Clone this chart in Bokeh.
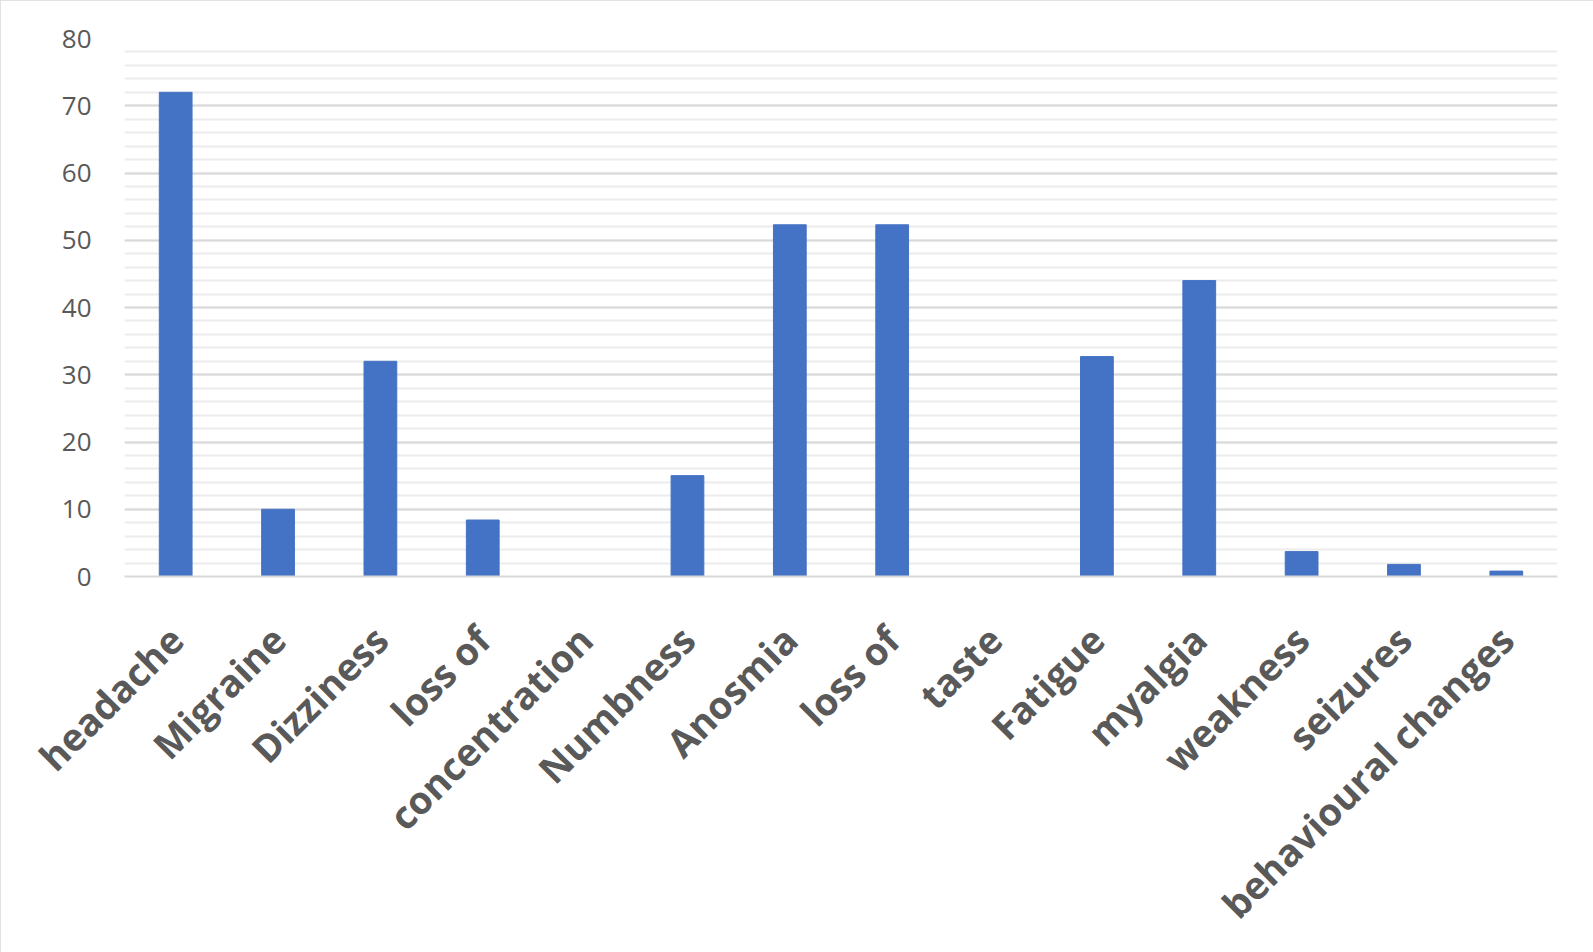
import math
from bokeh.plotting import figure
from bokeh.models import Range1d, FixedTicker, ColumnDataSource
from bokeh.embed import file_html
from bokeh.resources import INLINE

categories = ["headache", "Migraine", "Dizziness", "loss of", "concentration", "Numbness",
              "Anosmia", "loss of", "taste", "Fatigue", "myalgia", "weakness", "seizures",
              "behavioural changes"]
values = [72, 10, 32, 8.4, 0, 15, 52.3, 52.3, 0, 32.7, 44, 3.7, 1.8, 0.8]
y_ticks = [0, 10, 20, 30, 40, 50, 60, 70, 80]

positions = list(range(len(categories)))
src = ColumnDataSource(dict(x=positions, top=values))

p = figure(width=1593, height=952, output_backend="svg", toolbar_location=None,
           x_range=Range1d(-0.5, len(categories) - 0.5), y_range=Range1d(0, 80),
           min_border_left=124, min_border_right=36, min_border_top=38, min_border_bottom=376)
p.styles = {"outline": "2px solid #d9d9d9", "outline-offset": "-2px"}

p.vbar(x="x", top="top", width=0.32, source=src, fill_color="#4472C4", line_color="#4472C4")

p.outline_line_color = None
p.background_fill_color = "white"
p.border_fill_color = "white"

# y axis
p.yaxis.ticker = FixedTicker(ticks=y_ticks, minor_ticks=list(range(0, 81, 2)))
p.yaxis.axis_line_color = None
p.yaxis.major_tick_line_color = None
p.yaxis.minor_tick_line_color = None
p.yaxis.major_label_text_font = "Open Sans"
p.yaxis.major_label_text_font_size = "26px"
p.yaxis.major_label_text_color = "#595959"
p.yaxis.major_label_standoff = 27

p.ygrid.grid_line_color = "#d9d9d9"
p.ygrid.grid_line_width = 2
p.ygrid.minor_grid_line_color = "#ececec"
p.ygrid.minor_grid_line_width = 2
p.xgrid.grid_line_color = None

# x axis
p.xaxis.ticker = FixedTicker(ticks=positions)
p.xaxis.major_label_overrides = {i: c for i, c in enumerate(categories)}
p.xaxis.major_label_orientation = math.pi / 4
p.xaxis.axis_line_color = "#d9d9d9"
p.xaxis.axis_line_width = 2
p.xaxis.major_tick_line_color = None
p.xaxis.minor_tick_line_color = None
p.xaxis.major_label_text_font = "Open Sans"
p.xaxis.major_label_text_font_style = "bold"
p.xaxis.major_label_text_font_size = "38px"
p.xaxis.major_label_text_color = "#595959"
p.xaxis.major_label_standoff = 50

open("out.html", "w").write(file_html(p, INLINE))
